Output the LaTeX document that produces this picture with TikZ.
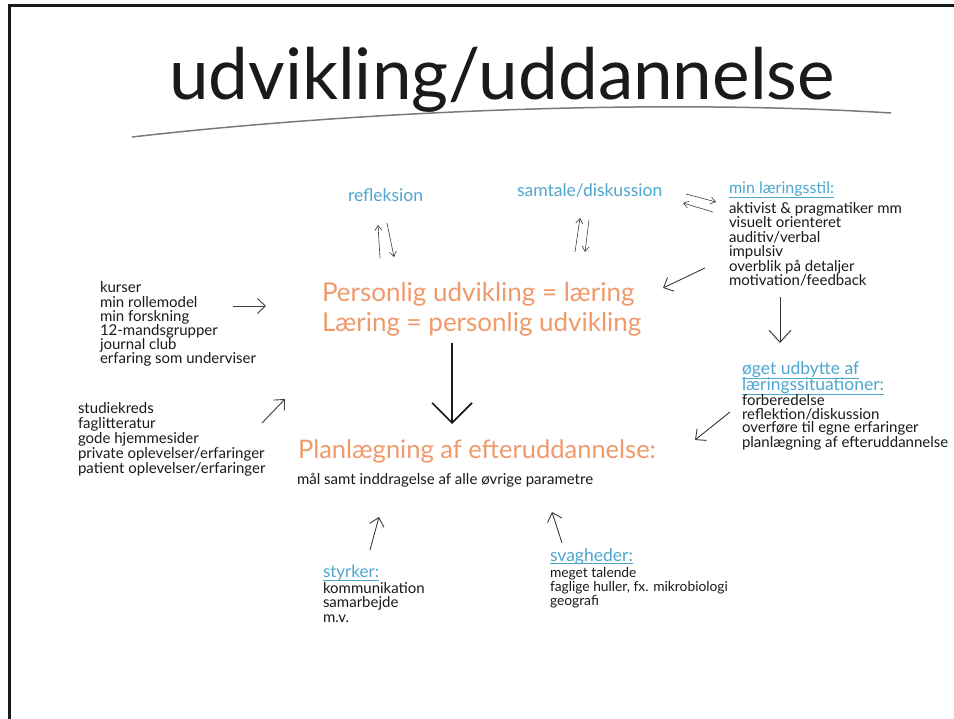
\documentclass[tikz,border=0pt]{standalone}
\usepackage{fontspec}
\setmainfont{Lato}
\usetikzlibrary{arrows.meta}
\definecolor{inkblue}{HTML}{4FA6CF}
\definecolor{inkorange}{HTML}{F09A6C}
\definecolor{ink}{HTML}{1A1A1A}
\definecolor{pencil}{HTML}{3C3C3C}
\definecolor{rulegray}{HTML}{7A7A7A}

\begin{document}
\begin{tikzpicture}[x=1pt,y=-1pt,
  every node/.style={inner sep=0pt, outer sep=0pt},
  titletext/.style={anchor=base, text=ink, font=\fontsize{71}{80}\selectfont},
  % multi-line texts are placed by the baseline of their last line
  listtext/.style={anchor=base west, align=left, text=ink, font=\fontsize{15}{14.5}\selectfont},
  bluehead/.style={anchor=base west, text=inkblue, font=\fontsize{17.5}{19}\selectfont},
  orangehead/.style={anchor=base west, align=left, text=inkorange, font=\fontsize{26}{30}\selectfont},
  underline/.style={draw=inkblue, line width=0.8pt},
  thinarrow/.style={draw=pencil, line width=0.9pt, -{Straight Barb[length=8pt,width=15pt]}},
  tinyarrow/.style={draw=pencil, line width=0.6pt, -{Straight Barb[length=5pt,width=7pt]}},
  midarrow/.style={draw=pencil, line width=1pt, -{Straight Barb[length=12pt,width=22pt]}},
  bigarrow/.style={draw=ink, line width=1.6pt, -{Straight Barb[length=20pt,width=40pt]}},
  frameline/.style={draw=ink, line width=3pt}
]
\useasboundingbox (0,0) rectangle (954,719);
\fill[white] (0,0) rectangle (954,719);

% sheet border, top and left edges
\draw[frameline] (8,5.5) -- (954,5.5);
\draw[frameline] (9.5,4) -- (9.5,719);

% title with its sweeping rule
\node[titletext] (title) at (502,100) {udvikling/uddannelse};
\coordinate (ruleL) at (132,137);
\coordinate (ruleR) at (891,113);
\draw[rulegray, line width=1.5pt] (ruleL) .. controls (350,112) and (650,98) .. (ruleR);

% upper row of topics
\node[bluehead] (refl) at (348,202) {refleksion};
\node[bluehead] (samtale) at (517,197) {samtale/diskussion};
\node[bluehead, font=\fontsize{16}{18}\selectfont] (stil) at (729,194) {min læringsstil:};
\draw[underline] ([yshift=-3pt]stil.base west) -- ([yshift=-3pt]stil.base east);
\node[listtext] (stilliste) at (729,286) {aktivist \& pragmatiker mm\\visuelt orienteret\\auditiv/verbal\\impulsiv\\overblik på detaljer\\motivation/feedback};

% sources on the left
\node[listtext, font=\fontsize{15}{14.2}\selectfont] (kilder) at (100,364) {kurser\\min rollemodel\\min forskning\\12-mandsgrupper\\journal club\\erfaring som underviser};
\node[listtext, font=\fontsize{15}{15}\selectfont] (litteratur) at (78,473) {studiekreds\\faglitteratur\\gode hjemmesider\\private oplevelser/erfaringer\\patient oplevelser/erfaringer};

% centre statements
\node[orangehead] (laering) at (322,332) {Personlig udvikling = læring\\Læring = personlig udvikling};
\node[orangehead, font=\fontsize{25.5}{30}\selectfont] (plan) at (298,458) {Planlægning af efteruddannelse:};
\node[listtext] (maal) at (297,484) {mål samt inddragelse af alle øvrige parametre};

% outcome of learning situations
\node[bluehead] (udbytteA) at (742,375) {øget udbytte af};
\node[bluehead] (udbytteB) at (742,391) {læringssituationer:};
\draw[underline] ([yshift=-3pt]udbytteA.base west) -- ([yshift=-3pt]udbytteA.base east);
\draw[underline] ([yshift=-3pt]udbytteB.base west) -- ([yshift=-3pt]udbytteB.base east);
\node[listtext, font=\fontsize{15}{14}\selectfont] (udbytteliste) at (742,447) {forberedelse\\reflektion/diskussion\\overføre til egne erfaringer\\planlægning af efteruddannelse};

% strengths and weaknesses
\node[bluehead, font=\fontsize{17}{19}\selectfont] (styrker) at (323,577) {styrker:};
\draw[underline] ([yshift=-3pt]styrker.base west) -- ([yshift=-3pt]styrker.base east);
\node[listtext] (styrkeliste) at (323,622) {kommunikation\\samarbejde\\m.v.};
\node[bluehead] (svag) at (550,561) {svagheder:};
\draw[underline] ([yshift=-2.5pt]svag.base west) -- ([yshift=-2.5pt]svag.base east);
\node[listtext, font=\fontsize{13.8}{11}\selectfont] (svagliste) at (550,605) {meget talende\\faglige huller, fx. mikrobiologi\\geografi};

% arrow end points
\coordinate (reflUpA) at (380,258);  \coordinate (reflUpB) at (378,225);
\coordinate (reflDnA) at (387,223);  \coordinate (reflDnB) at (394,257);
\coordinate (samUpA) at (575,252);   \coordinate (samUpB) at (580,218);
\coordinate (samDnA) at (589,220);   \coordinate (samDnB) at (585,252);
\coordinate (xchRA) at (686,194);    \coordinate (xchRB) at (716,202);
\coordinate (xchLA) at (713,212);    \coordinate (xchLB) at (683,203);
\coordinate (stilInA) at (705,268);  \coordinate (stilInB) at (663,288);
\coordinate (stilDnA) at (780,297);  \coordinate (stilDnB) at (780,343);
\coordinate (kildA) at (233,306);    \coordinate (kildB) at (266,306);
\coordinate (litA) at (262,423);     \coordinate (litB) at (285,399);
\coordinate (mainA) at (452,343);    \coordinate (mainB) at (452,424);
\coordinate (udbA) at (730,412);     \coordinate (udbB) at (695,440);
\coordinate (styA) at (370,550);     \coordinate (styB) at (379,517);
\coordinate (svaA) at (562,543);     \coordinate (svaB) at (552,512);

% connectors
\draw[tinyarrow] (reflUpA) -- (reflUpB);
\draw[tinyarrow] (reflDnA) -- (reflDnB);
\draw[tinyarrow] (samUpA) -- (samUpB);
\draw[tinyarrow] (samDnA) -- (samDnB);
\draw[tinyarrow] (xchRA) -- (xchRB);
\draw[tinyarrow] (xchLA) -- (xchLB);
\draw[thinarrow] (stilInA) -- (stilInB);
\draw[midarrow] (stilDnA) -- (stilDnB);
\draw[thinarrow] (kildA) -- (kildB);
\draw[thinarrow] (litA) -- (litB);
\draw[bigarrow] (mainA) -- (mainB);
\draw[thinarrow] (udbA) -- (udbB);
\draw[thinarrow] (styA) -- (styB);
\draw[thinarrow] (svaA) -- (svaB);
\end{tikzpicture}
\end{document}
